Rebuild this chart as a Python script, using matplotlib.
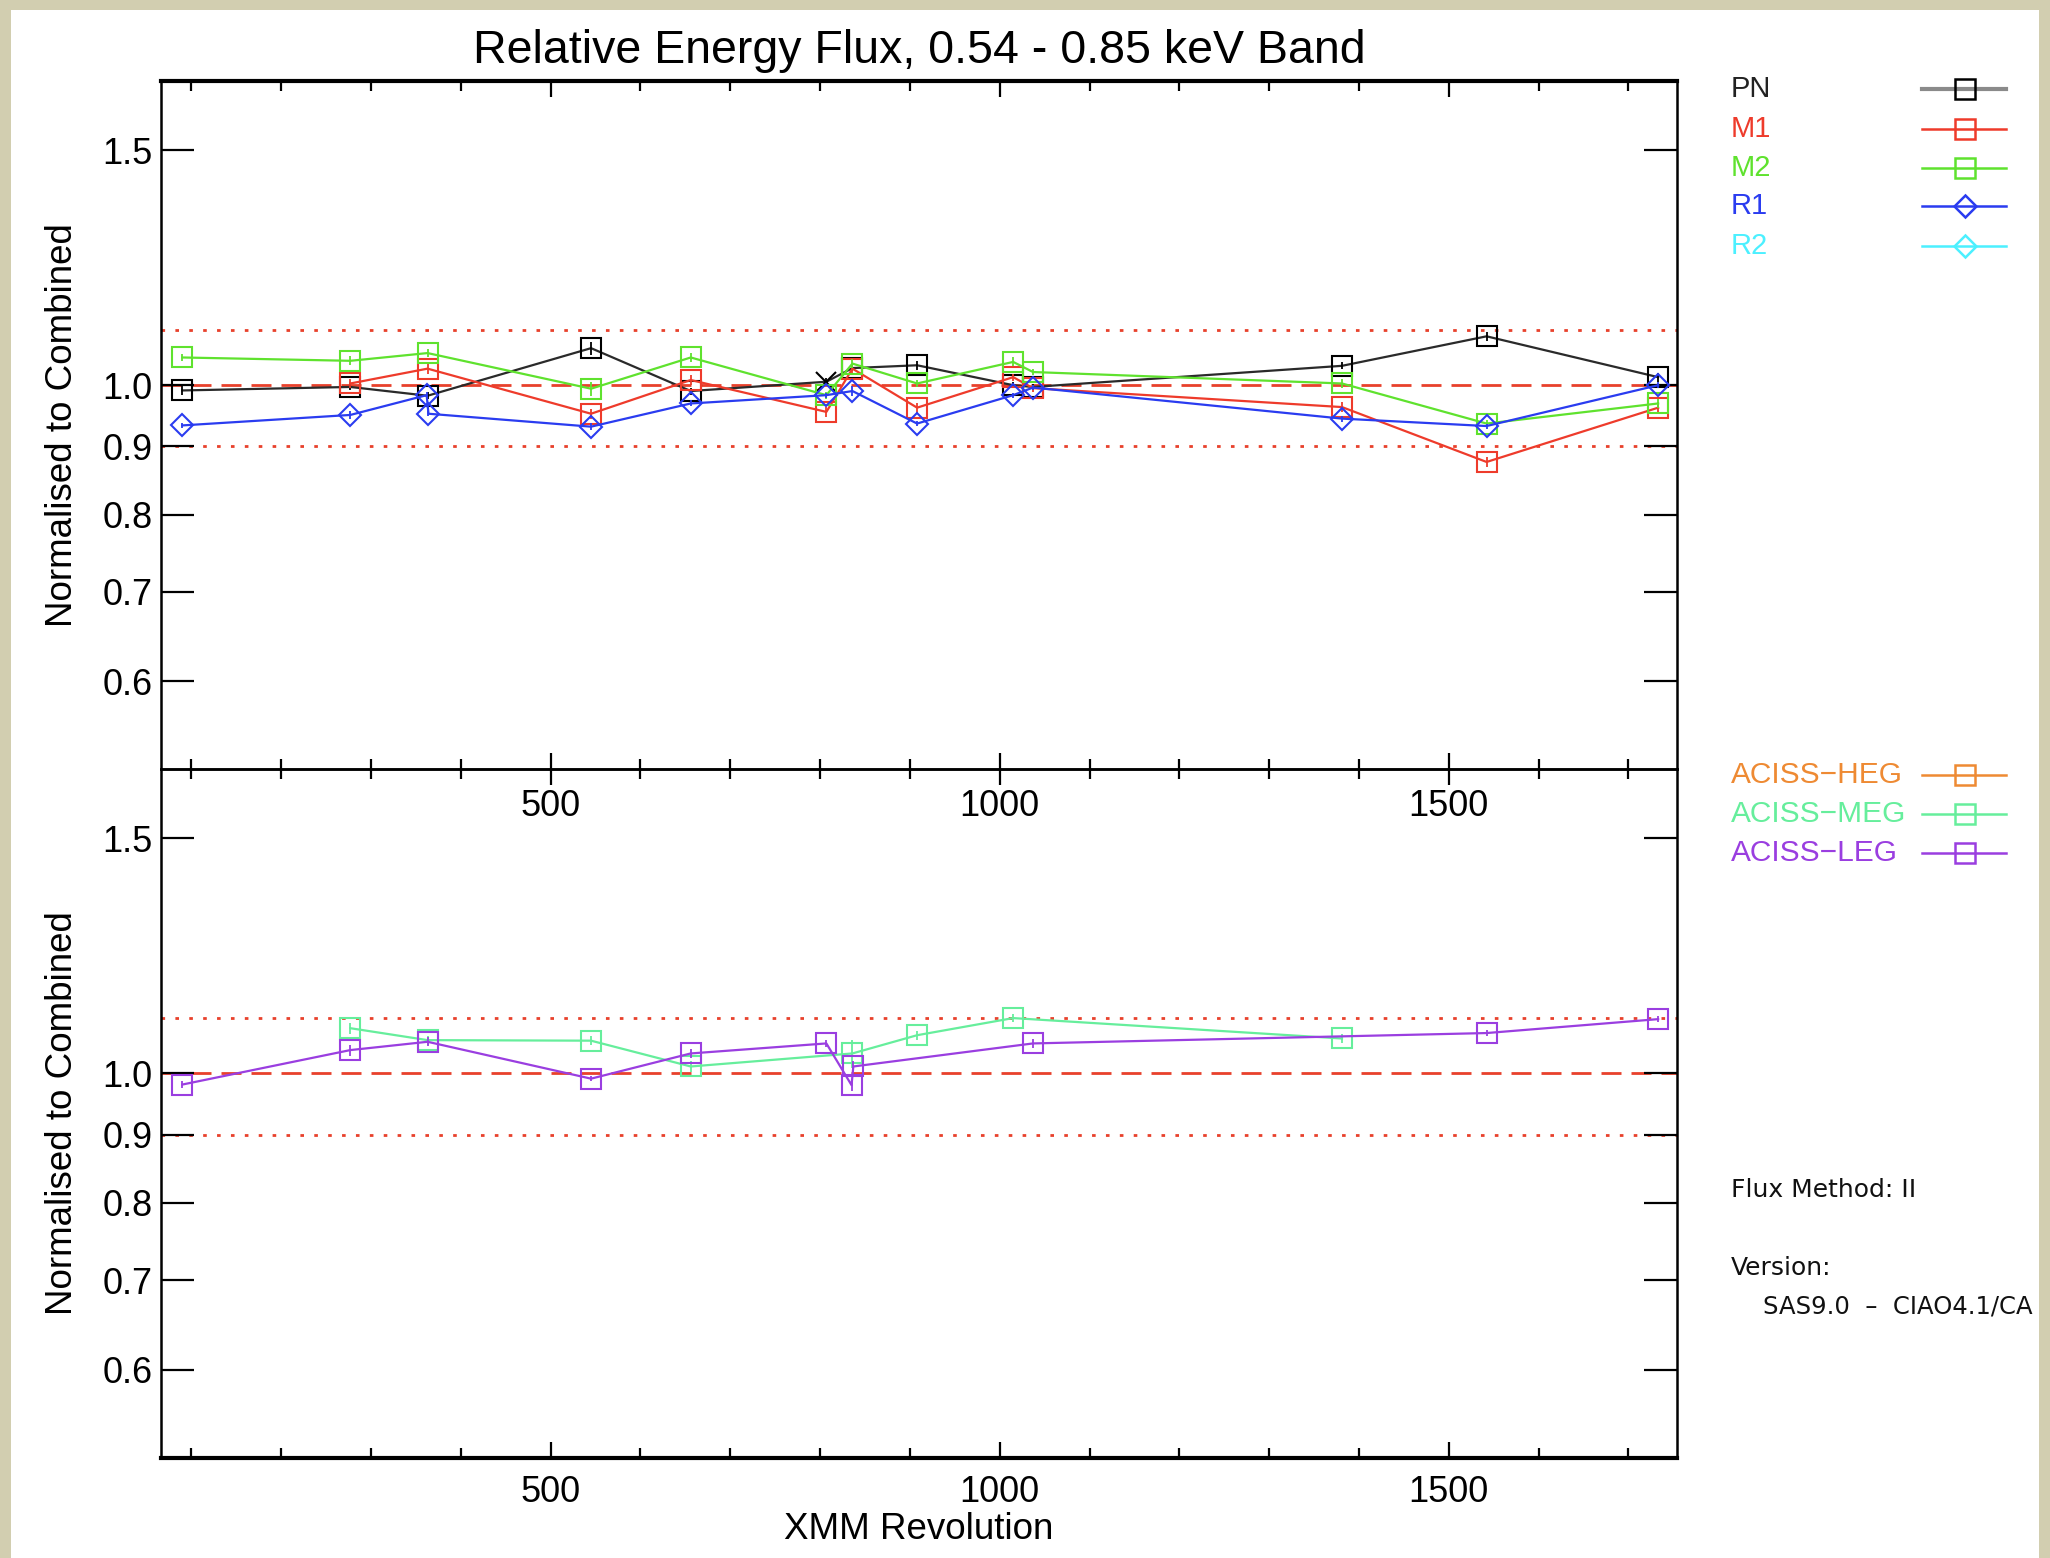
import matplotlib
matplotlib.use('Agg')
import matplotlib.pyplot as plt
from matplotlib.patches import Rectangle
from matplotlib.ticker import FixedLocator, MultipleLocator, NullLocator, NullFormatter, FixedFormatter

plt.rcParams['font.family'] = ['Liberation Sans', 'DejaVu Sans']

# ---------------- data ----------------
title = "Relative Energy Flux, 0.54 - 0.85 keV Band"
xlabel = "XMM Revolution"
ylabel = "Normalised to Combined"
ytick_vals = [0.6, 0.7, 0.8, 0.9, 1.0, 1.5]
ytick_labels = ["0.6", "0.7", "0.8", "0.9", "1.0", "1.5"]
xtick_major = [500, 1000, 1500]
xtick_labels = ["500", "1000", "1500"]
ref_line = 1.0
band_lines = [0.9, 1.1]

pn_rev = [90, 277, 363, 545, 656, 807, 836, 908, 1015, 1037, 1381, 1542, 1733]
pn_val = [0.991, 0.997, 0.982, 1.066, 0.990, 1.006, 1.030, 1.035, 1.000, 0.997, 1.034, 1.088, 1.014]
pn_err = [0.008, 0.006, 0.006, 0.012, 0.006, 0.006, 0.006, 0.008, 0.005, 0.005, 0.006, 0.008, 0.008]
pn_mark = ['s', 's', 's', 's', 's', 'x', 's', 's', 's', 's', 's', 's', 's']

m1_rev = [277, 363, 545, 656, 807, 836, 908, 1015, 1037, 1381, 1542, 1733]
m1_val = [1.003, 1.029, 0.952, 1.009, 0.955, 1.029, 0.962, 1.014, 0.995, 0.963, 0.876, 0.962]
m1_err = [0.008, 0.010, 0.008, 0.008, 0.008, 0.008, 0.008, 0.006, 0.006, 0.008, 0.008, 0.010]

m2_rev = [90, 277, 363, 545, 656, 807, 836, 908, 1015, 1037, 1381, 1542, 1733]
m2_val = [1.049, 1.043, 1.057, 0.994, 1.049, 0.983, 1.038, 1.003, 1.041, 1.023, 1.003, 0.936, 0.969]
m2_err = [0.006, 0.008, 0.008, 0.012, 0.008, 0.006, 0.008, 0.006, 0.008, 0.006, 0.008, 0.006, 0.008]

r1_rev = [90, 277, 362, 364, 545, 656, 807, 836, 908, 1015, 1037, 1381, 1542, 1733]
r1_val = [0.933, 0.950, 0.983, 0.952, 0.931, 0.969, 0.983, 0.990, 0.936, 0.983, 0.996, 0.944, 0.932, 1.000]
r1_err = [0.004, 0.006, 0.006, 0.004, 0.006, 0.005, 0.004, 0.008, 0.004, 0.004, 0.004, 0.005, 0.004, 0.005]

r2_rev = []
r2_val = []

heg_rev = []
heg_val = []

meg_rev = [277, 363, 545, 656, 836, 908, 1015, 1381]
meg_val = [1.081, 1.059, 1.058, 1.012, 1.035, 1.068, 1.100, 1.062]
meg_err = [0.010, 0.008, 0.008, 0.010, 0.025, 0.008, 0.008, 0.008]

leg_rev = [90, 277, 363, 545, 656, 807, 835, 837, 1037, 1542, 1733]
leg_val = [0.981, 1.041, 1.056, 0.991, 1.035, 1.053, 0.980, 1.012, 1.053, 1.072, 1.098]
leg_err = [0.006, 0.010, 0.008, 0.004, 0.008, 0.006, 0.010, 0.010, 0.008, 0.006, 0.006]

top_names = ["PN", "M1", "M2", "R1", "R2"]
top_colors = ["#000000", "#ee3b2b", "#5fe22e", "#2a3cf0", "#4cf0ff"]
top_line_colors = ["#8a8a8a", "#ee3b2b", "#5fe22e", "#2a3cf0", "#4cf0ff"]
top_markers = ['s', 's', 's', 'D', 'D']

bot_names = ["ACISS\u2212HEG", "ACISS\u2212MEG", "ACISS\u2212LEG"]
bot_colors = ["#ee8a33", "#66ee9c", "#9a3ee0"]
bot_markers = ['s', 's', 's']

info_lines = ["Flux Method: II", "Version:", "SAS9.0  \u2013  CIAO4.1/CA"]

# ---------------- layout ----------------
W, H = 2050, 1558
fig = plt.figure(figsize=(W / 100, H / 100), dpi=100)
fig.patch.set_facecolor('white')

xl, xr = 160.8, 1677.0
yt, ym, yb = 81.0, 768.8, 1457.5
ax1 = fig.add_axes([xl / W, 1 - ym / H, (xr - xl) / W, (ym - yt) / H])
ax2 = fig.add_axes([xl / W, 1 - yb / H, (xr - xl) / W, (yb - ym) / H])

red = "#e8412c"
for ax, xpad in ((ax1, 14.5), (ax2, 12.8)):
    ax.set_yscale('log')
    ax.set_xlim(66, 1754)
    ax.set_ylim(0.516, 1.69)
    ax.yaxis.set_major_locator(FixedLocator(ytick_vals))
    ax.yaxis.set_major_formatter(FixedFormatter(ytick_labels))
    ax.yaxis.set_minor_locator(NullLocator())
    ax.yaxis.set_minor_formatter(NullFormatter())
    ax.xaxis.set_major_locator(FixedLocator(xtick_major))
    ax.xaxis.set_major_formatter(FixedFormatter(xtick_labels))
    ax.xaxis.set_minor_locator(MultipleLocator(100))
    ax.tick_params(axis='both', which='both', direction='in', top=True, right=True,
                   width=1.6, labelsize=26)
    ax.tick_params(axis='y', which='major', length=24, pad=6)
    ax.tick_params(axis='x', which='major', length=11.5, pad=xpad)
    ax.tick_params(axis='x', which='minor', length=7)
    for s in ax.spines.values():
        s.set_linewidth(1.8)
    ax.axhline(ref_line, color=red, lw=2, dashes=(7.2, 3.6), zorder=1)
    for b in band_lines:
        ax.axhline(b, color=red, lw=2, dashes=(1.3, 3.7), zorder=1)
    ax.patch.set_alpha(0)

ax1.spines['top'].set_linewidth(3)
ax2.spines['bottom'].set_linewidth(3)

ms_sq = 14
ms_di = 11


def draw(ax, rev, val, err, color, marker, lcolor=None, z=3):
    lcolor = lcolor or color
    ax.plot(rev, val, color=lcolor, lw=1.6, zorder=z)
    if err:
        ax.errorbar(rev, val, yerr=err, fmt='none', ecolor=color, elinewidth=1.3,
                    capsize=0, zorder=z)
    if isinstance(marker, list):
        for mk in set(marker):
            xs = [r for r, m in zip(rev, marker) if m == mk]
            ys = [v for v, m in zip(val, marker) if m == mk]
            ax.plot(xs, ys, ls='none', marker=mk, ms=ms_sq, mfc='none', mec=color,
                    mew=1.5, zorder=z + 0.5)
    else:
        ax.plot(rev, val, ls='none', marker=marker, ms=ms_di if marker == 'D' else ms_sq,
                mfc='none', mec=color, mew=1.5, zorder=z + 0.5)


draw(ax1, pn_rev, pn_val, pn_err, top_colors[0], pn_mark, lcolor="#2a2a2a", z=3)
draw(ax1, m1_rev, m1_val, m1_err, top_colors[1], 's', z=4)
draw(ax1, m2_rev, m2_val, m2_err, top_colors[2], 's', z=5)
draw(ax1, r1_rev, r1_val, r1_err, top_colors[3], 'D', z=6)
if r2_rev:
    draw(ax1, r2_rev, r2_val, None, top_colors[4], 'D', z=7)

if heg_rev:
    draw(ax2, heg_rev, heg_val, None, bot_colors[0], 's', z=3)
draw(ax2, meg_rev, meg_val, meg_err, bot_colors[1], 's', z=4)
draw(ax2, leg_rev, leg_val, leg_err, bot_colors[2], 's', z=5)

# ---------------- overlay: titles, legends, notes ----------------
ov = fig.add_axes([0, 0, 1, 1])
ov.set_xlim(0, W)
ov.set_ylim(H, 0)
ov.axis('off')
ov.patch.set_alpha(0)

ov.text((xl + xr) / 2, 63, title, ha='center', va='baseline', fontsize=33.5)
ov.text((xl + xr) / 2, 1539, xlabel, ha='center', va='baseline', fontsize=26.5)
for yc in ((yt + ym) / 2, (ym + yb) / 2):
    ov.text(63, yc, ylabel, rotation=90, ha='center', va='center', fontsize=26.5)

lx0, lx1, lxm, tx = 1922, 2006, 1965, 1731
top_rows = [89, 128.5, 167.5, 206, 246]
for name, c, lc, mk, y in zip(top_names, top_colors, top_line_colors, top_markers, top_rows):
    ov.text(tx, y, name, color=c if name != "PN" else "#222222", fontsize=21,
            va='center', ha='left')
    ov.plot([lx0, lx1], [y, y], color=lc, lw=3 if name == "PN" else 1.8)
    ov.plot([lxm], [y], marker=mk, ms=14 if mk == 's' else 11, mfc='none', mec=c, mew=1.8)

bot_rows = [775, 814, 853]
for name, c, mk, y in zip(bot_names, bot_colors, bot_markers, bot_rows):
    ov.text(tx, y, name, color=c, fontsize=21.5, va='center', ha='left')
    ov.plot([lx0, lx1], [y, y], color=c, lw=1.8)
    ov.plot([lxm], [y], marker=mk, ms=14, mfc='none', mec=c, mew=1.8)

ov.text(tx, 1190, info_lines[0], fontsize=18, family='DejaVu Sans', va='center',
        color='#111111')
ov.text(tx, 1268, info_lines[1], fontsize=18, family='DejaVu Sans', va='center',
        color='#111111')
ov.text(1763, 1307, info_lines[2], fontsize=17.5, family='DejaVu Sans', va='center',
        color='#111111', zorder=2)

# beige frame around the white panel
beige = "#d2ceb0"
for (x0, y0, w, h) in [(0, 0, 11, H), (0, 0, W, 10), (2039, 0, 11, H)]:
    ov.add_patch(Rectangle((x0, y0), w, h, facecolor=beige, edgecolor='none',
                           zorder=10, clip_on=False))

fig.savefig("out.png", dpi=100, facecolor='white')
